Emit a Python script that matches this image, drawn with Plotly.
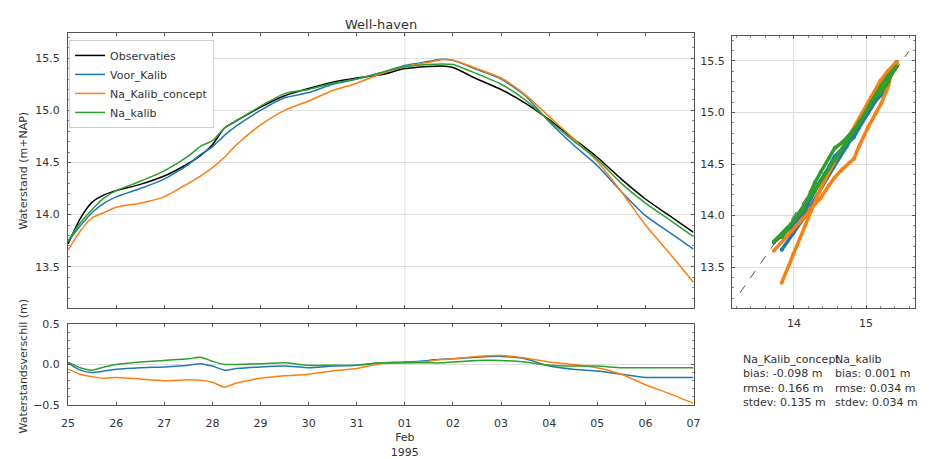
import numpy as np
import plotly.graph_objects as go

# ---------------- data ----------------
times = ["1995-01-25 00:00", "1995-01-25 06:00", "1995-01-25 12:00", "1995-01-25 18:00",
         "1995-01-26 00:00", "1995-01-26 12:00", "1995-01-27 00:00", "1995-01-27 12:00",
         "1995-01-27 18:00", "1995-01-28 00:00", "1995-01-28 06:00", "1995-01-28 12:00",
         "1995-01-29 00:00", "1995-01-29 12:00", "1995-01-30 00:00", "1995-01-30 12:00",
         "1995-01-31 00:00", "1995-01-31 12:00", "1995-02-01 00:00", "1995-02-01 12:00",
         "1995-02-01 18:00", "1995-02-02 00:00", "1995-02-02 12:00", "1995-02-03 00:00",
         "1995-02-03 12:00", "1995-02-04 00:00", "1995-02-04 12:00", "1995-02-05 00:00",
         "1995-02-05 12:00", "1995-02-06 00:00", "1995-02-06 12:00", "1995-02-07 00:00"]

observaties = [13.72, 13.96, 14.12, 14.19, 14.23, 14.29, 14.37, 14.49, 14.565, 14.67, 14.83, 14.90,
               15.03, 15.14, 15.21, 15.27, 15.31, 15.34, 15.40, 15.42, 15.425, 15.41, 15.30, 15.20,
               15.07, 14.91, 14.73, 14.55, 14.34, 14.15, 13.99, 13.83]
voor_kalib = [13.74, 13.89, 14.02, 14.11, 14.17, 14.25, 14.34, 14.48, 14.575, 14.65, 14.76, 14.85,
              15.00, 15.12, 15.17, 15.25, 15.30, 15.36, 15.43, 15.47, 15.49, 15.48, 15.39, 15.30,
              15.14, 14.89, 14.67, 14.47, 14.22, 13.99, 13.83, 13.67]
na_kalib_concept = [13.66, 13.84, 13.97, 14.02, 14.07, 14.11, 14.17, 14.30, 14.37, 14.45, 14.55, 14.67,
                    14.86, 15.00, 15.09, 15.19, 15.26, 15.35, 15.42, 15.46, 15.485, 15.48, 15.40, 15.31,
                    15.15, 14.94, 14.73, 14.51, 14.22, 13.90, 13.63, 13.35]
na_kalib = [13.75, 13.92, 14.05, 14.16, 14.23, 14.32, 14.42, 14.56, 14.655, 14.71, 14.83, 14.90,
            15.04, 15.16, 15.20, 15.26, 15.30, 15.36, 15.42, 15.44, 15.445, 15.44, 15.35, 15.25,
            15.10, 14.90, 14.71, 14.53, 14.30, 14.11, 13.95, 13.79]

day_ticks = ["1995-01-25", "1995-01-26", "1995-01-27", "1995-01-28", "1995-01-29", "1995-01-30",
             "1995-01-31", "1995-02-01", "1995-02-02", "1995-02-03", "1995-02-04", "1995-02-05",
             "1995-02-06", "1995-02-07"]
day_labels = ["25", "26", "27", "28", "29", "30", "31", "01<br>Feb<br>1995", "02", "03", "04",
              "05", "06", "07"]

stat_names = ["Na_Kalib_concept", "Na_kalib"]
stat_bias = ["-0.098", "0.001"]
stat_rmse = ["0.166", "0.034"]
stat_stdev = ["0.135", "0.034"]

# ---------------- figure ----------------
W, H = 933, 459
FONT = "DejaVu Sans"
TXT = "#333333"
SPINE = "#555555"
GRID = "#dedede"

def px_x(p):
    return p / W

def px_y(p):
    return 1 - p / H

models = [("Voor_Kalib", voor_kalib, "#1f77b4"),
          ("Na_Kalib_concept", na_kalib_concept, "#ff7f0e"),
          ("Na_kalib", na_kalib, "#2ca02c")]

fig = go.Figure()
fig.add_trace(go.Scatter(x=times, y=observaties, name="Observaties", mode="lines",
                         line=dict(color="black", width=1.5, shape="spline", smoothing=0.6),
                         xaxis="x", yaxis="y"))
for name, vals, col in models:
    fig.add_trace(go.Scatter(x=times, y=vals, name=name, mode="lines",
                             line=dict(color=col, width=1.5, shape="spline", smoothing=0.6),
                             xaxis="x", yaxis="y"))

obs_arr = np.array(observaties)
for name, vals, col in models:
    fig.add_trace(go.Scatter(x=times, y=np.array(vals) - obs_arr, name=name, mode="lines",
                             line=dict(color=col, width=1.5, shape="spline", smoothing=0.6),
                             xaxis="x2", yaxis="y2", showlegend=False))

allv = np.concatenate([obs_arr] + [np.array(v) for _, v, _ in models])
lo, hi = allv.min() - 0.1, allv.max() + 0.1
fig.add_trace(go.Scatter(x=[lo, hi], y=[lo, hi], mode="lines", showlegend=False,
                         line=dict(color="#555555", width=1, dash="dash"),
                         xaxis="x3", yaxis="y3"))
for name, vals, col in models:
    fig.add_trace(go.Scatter(x=observaties, y=vals, mode="lines+markers", showlegend=False,
                             line=dict(color=col, width=3.5), marker=dict(color=col, size=4),
                             xaxis="x3", yaxis="y3"))

x_dom = [px_x(62), px_x(697)]
common_ax = dict(showline=True, linecolor=SPINE, linewidth=1, mirror="ticks",
                 ticks="inside", ticklen=3, tickcolor=SPINE,
                 tickfont=dict(family=FONT, size=11, color=TXT), zeroline=False)
minor_y = dict(ticks="inside", dtick=0.1, ticklen=2, tickcolor="#888888", showgrid=False)

fig.update_layout(
    width=W, height=H, margin=dict(l=0, r=0, t=0, b=0),
    paper_bgcolor="white", plot_bgcolor="white",
    font=dict(family=FONT, size=11, color=TXT),
    xaxis=dict(domain=x_dom, anchor="y", range=[day_ticks[0], day_ticks[-1]],
               tickvals=day_ticks, showticklabels=False, showgrid=False, **common_ax),
    yaxis=dict(domain=[px_y(312), px_y(28)], anchor="x", range=[13.10, 15.74],
               tickvals=[13.5, 14.0, 14.5, 15.0, 15.5], ticktext=["13.5", "14.0", "14.5", "15.0", "15.5"],
               showgrid=True, gridcolor=GRID, minor=minor_y, ticklabelstandoff=5, **common_ax),
    xaxis2=dict(domain=x_dom, anchor="y2", range=[day_ticks[0], day_ticks[-1]],
                tickvals=day_ticks, ticktext=day_labels, showgrid=False, ticklabelstandoff=8,
                **common_ax),
    yaxis2=dict(domain=[px_y(411.5), px_y(328)], anchor="x2", range=[-0.5, 0.5],
                tickvals=[-0.5, 0.0, 0.5], ticktext=["\u22120.5", "0.0", "0.5"],
                showgrid=True, gridcolor=GRID, minor=minor_y, ticklabelstandoff=5, **common_ax),
    xaxis3=dict(domain=[px_x(736), px_x(922)], anchor="y3", range=[13.14, 15.68],
                tickvals=[14, 15], showgrid=True, gridcolor=GRID, ticklabelstandoff=4,
                minor=dict(ticks="inside", dtick=0.2, ticklen=2, tickcolor="#888888", showgrid=False),
                **common_ax),
    yaxis3=dict(domain=[px_y(312), px_y(31)], anchor="x3", range=[13.10, 15.74],
                tickvals=[13.5, 14.0, 14.5, 15.0, 15.5], ticktext=["13.5", "14.0", "14.5", "15.0", "15.5"],
                showgrid=True, gridcolor=GRID, minor=minor_y, ticklabelstandoff=4, **common_ax),
    legend=dict(x=px_x(63), y=px_y(35), xanchor="left", yanchor="top",
                bgcolor="white", bordercolor="#d0d0d0", borderwidth=1,
                font=dict(family=FONT, size=11, color=TXT), tracegroupgap=0, itemwidth=30),
    showlegend=True,
)

# Feb 01 vertical gridline in both time panels
for xr, yr in [("x", "y"), ("x2", "y2")]:
    fig.add_shape(type="line", xref=xr, yref=yr + " domain", x0=day_ticks[7], x1=day_ticks[7],
                  y0=0, y1=1, line=dict(color=GRID, width=1), layer="below")

ann = [
    dict(text="Well-haven", x=px_x(379.5), y=px_y(19), font=dict(size=13)),
    dict(text="Waterstand (m+NAP)", x=px_x(17), y=px_y(170), textangle=-90),
    dict(text="Waterstandsverschil (m)", x=px_x(17), y=px_y(372), textangle=-90),
]
for a in ann:
    fig.add_annotation(xref="paper", yref="paper", showarrow=False, xanchor="center", yanchor="middle",
                       font=a.get("font", dict(size=11)), **{k: v for k, v in a.items() if k != "font"})

for i, xpos in enumerate([745, 839]):
    txt = (f"{stat_names[i]}<br>bias: {stat_bias[i]} m<br>rmse: {stat_rmse[i]} m"
           f"<br>stdev: {stat_stdev[i]} m")
    fig.add_annotation(xref="paper", yref="paper", x=px_x(xpos), y=px_y(356), xanchor="left",
                       yanchor="top", align="left", showarrow=False, text=txt,
                       font=dict(family=FONT, size=11, color=TXT))

fig.write_html("out.html")
